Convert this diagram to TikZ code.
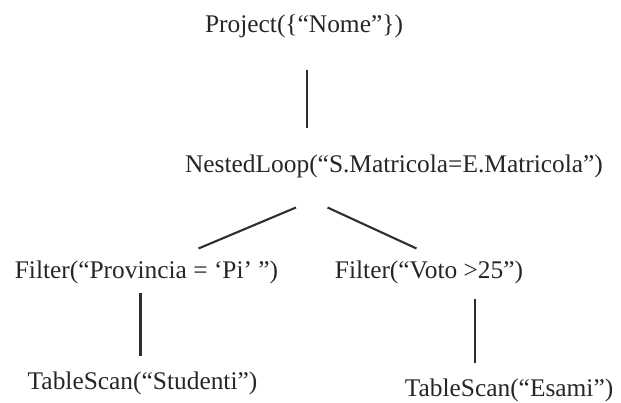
\documentclass[tikz,border=0pt]{standalone}
\usepackage{fontspec}
\setmainfont{Liberation Serif}
\begin{document}
\begin{tikzpicture}[x=1pt,y=-1pt,
  lbl/.style={anchor=base,inner sep=0pt,text=black!85,font=\fontsize{25.4}{30}\selectfont},
  edge/.style={line width=2.1pt,draw=black!82}]
\useasboundingbox (0,0) rectangle (621,403);
\node[lbl] (proj) at (304,33) {Project(\{“Nome”\})};
\node[lbl] (nl) at (394,173) {NestedLoop(“S.Matricola=E.Matricola”)};
\node[lbl] (fl) at (146.5,279) {Filter(“Provincia = ‘Pi’ ”)};
\node[lbl] (fr) at (429,279) {Filter(“Voto >25”)};
\node[lbl] (ts) at (142.5,389) {TableScan(“Studenti”)};
\node[lbl] (te) at (509,396) {TableScan(“Esami”)};
\coordinate (a1) at (307,70);
\coordinate (a2) at (307,128);
\coordinate (b1) at (296,207.5);
\coordinate (b2) at (198.5,248.5);
\coordinate (c1) at (327.5,207.5);
\coordinate (c2) at (416.5,248.5);
\coordinate (d1) at (140.5,293);
\coordinate (d2) at (140.5,356);
\coordinate (e1) at (475,299);
\coordinate (e2) at (475,363);
\draw[edge] (a1) -- (a2);
\draw[edge] (b1) -- (b2);
\draw[edge] (c1) -- (c2);
\draw[edge] (d1) -- (d2);
\draw[edge] (e1) -- (e2);
\end{tikzpicture}
\end{document}
